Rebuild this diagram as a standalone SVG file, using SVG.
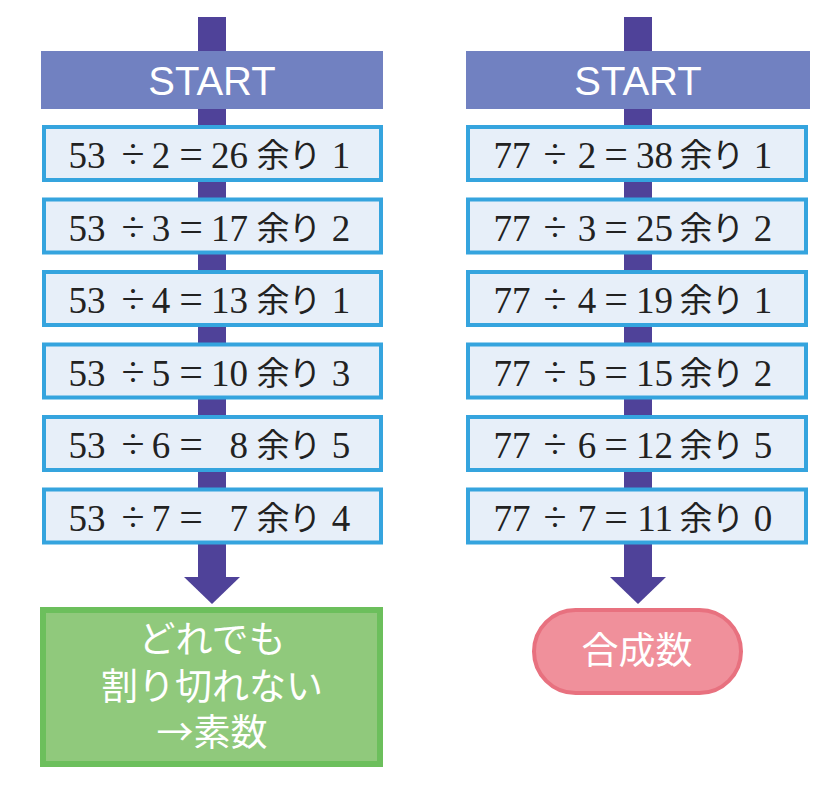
<svg xmlns="http://www.w3.org/2000/svg" width="840" height="797" viewBox="0 0 840 797">
<style>
.bar{fill:#4f4299}
.start{fill:#7181c1}
.st{font-family:"Liberation Sans","Noto Sans",sans-serif;font-size:40px;fill:#ffffff;text-anchor:middle}
.box{fill:#e7eff9;stroke:#35a4de;stroke-width:4}
.n{font-family:"Liberation Serif","Noto Sans CJK JP",serif;font-size:37px;fill:#222;text-anchor:middle}
.o{font-size:42px}
.r{text-anchor:end}
.j{font-family:"Noto Sans CJK JP",sans-serif;font-size:33px;fill:#222;text-anchor:middle}
.w{font-family:"Noto Sans CJK JP",sans-serif;font-size:37px;fill:#ffffff;text-anchor:middle}
</style>
<g id="connectors">
<rect class="bar" x="198" y="17" width="28" height="561"/>
<polygon class="bar" points="184,577 240,577 212,604"/>
<rect class="bar" x="624" y="17" width="28" height="561"/>
<polygon class="bar" points="610,577 666,577 638,604"/>
</g>
<g id="start-left">
<rect class="start" x="41" y="51" width="342" height="58"/>
<text class="st" x="212" y="95">START</text>
</g>
<g id="start-right">
<rect class="start" x="466" y="51" width="344" height="58"/>
<text class="st" x="638" y="95">START</text>
</g>
<g id="l1" transform="translate(42,125)">
<rect class="box" x="2" y="2" width="337" height="53"/>
<text class="n" x="45" y="43">53</text><text class="n o" x="91" y="43">÷</text><text class="n" x="119" y="43">2</text><text class="n o" x="149" y="43">=</text><text class="n r" x="206" y="43">26</text><text class="j" x="231" y="42">余</text><text class="j" x="263" y="42">り</text><text class="n" x="299" y="43">1</text>
</g>
<g id="l2" transform="translate(42,197.5)">
<rect class="box" x="2" y="2" width="337" height="53"/>
<text class="n" x="45" y="43">53</text><text class="n o" x="91" y="43">÷</text><text class="n" x="119" y="43">3</text><text class="n o" x="149" y="43">=</text><text class="n r" x="206" y="43">17</text><text class="j" x="231" y="42">余</text><text class="j" x="263" y="42">り</text><text class="n" x="299" y="43">2</text>
</g>
<g id="l3" transform="translate(42,270)">
<rect class="box" x="2" y="2" width="337" height="53"/>
<text class="n" x="45" y="43">53</text><text class="n o" x="91" y="43">÷</text><text class="n" x="119" y="43">4</text><text class="n o" x="149" y="43">=</text><text class="n r" x="206" y="43">13</text><text class="j" x="231" y="42">余</text><text class="j" x="263" y="42">り</text><text class="n" x="299" y="43">1</text>
</g>
<g id="l4" transform="translate(42,342.5)">
<rect class="box" x="2" y="2" width="337" height="53"/>
<text class="n" x="45" y="43">53</text><text class="n o" x="91" y="43">÷</text><text class="n" x="119" y="43">5</text><text class="n o" x="149" y="43">=</text><text class="n r" x="206" y="43">10</text><text class="j" x="231" y="42">余</text><text class="j" x="263" y="42">り</text><text class="n" x="299" y="43">3</text>
</g>
<g id="l5" transform="translate(42,415)">
<rect class="box" x="2" y="2" width="337" height="53"/>
<text class="n" x="45" y="43">53</text><text class="n o" x="91" y="43">÷</text><text class="n" x="119" y="43">6</text><text class="n o" x="149" y="43">=</text><text class="n r" x="206" y="43">8</text><text class="j" x="231" y="42">余</text><text class="j" x="263" y="42">り</text><text class="n" x="299" y="43">5</text>
</g>
<g id="l6" transform="translate(42,487.5)">
<rect class="box" x="2" y="2" width="337" height="53"/>
<text class="n" x="45" y="43">53</text><text class="n o" x="91" y="43">÷</text><text class="n" x="119" y="43">7</text><text class="n o" x="149" y="43">=</text><text class="n r" x="206" y="43">7</text><text class="j" x="231" y="42">余</text><text class="j" x="263" y="42">り</text><text class="n" x="299" y="43">4</text>
</g>
<g id="r1" transform="translate(466,125)">
<rect class="box" x="2" y="2" width="338" height="53"/>
<text class="n" x="46" y="43">77</text><text class="n o" x="89" y="43">÷</text><text class="n" x="121" y="43">2</text><text class="n o" x="150" y="43">=</text><text class="n r" x="207" y="43">38</text><text class="j" x="230" y="42">余</text><text class="j" x="262" y="42">り</text><text class="n" x="297" y="43">1</text>
</g>
<g id="r2" transform="translate(466,197.5)">
<rect class="box" x="2" y="2" width="338" height="53"/>
<text class="n" x="46" y="43">77</text><text class="n o" x="89" y="43">÷</text><text class="n" x="121" y="43">3</text><text class="n o" x="150" y="43">=</text><text class="n r" x="207" y="43">25</text><text class="j" x="230" y="42">余</text><text class="j" x="262" y="42">り</text><text class="n" x="297" y="43">2</text>
</g>
<g id="r3" transform="translate(466,270)">
<rect class="box" x="2" y="2" width="338" height="53"/>
<text class="n" x="46" y="43">77</text><text class="n o" x="89" y="43">÷</text><text class="n" x="121" y="43">4</text><text class="n o" x="150" y="43">=</text><text class="n r" x="207" y="43">19</text><text class="j" x="230" y="42">余</text><text class="j" x="262" y="42">り</text><text class="n" x="297" y="43">1</text>
</g>
<g id="r4" transform="translate(466,342.5)">
<rect class="box" x="2" y="2" width="338" height="53"/>
<text class="n" x="46" y="43">77</text><text class="n o" x="89" y="43">÷</text><text class="n" x="121" y="43">5</text><text class="n o" x="150" y="43">=</text><text class="n r" x="207" y="43">15</text><text class="j" x="230" y="42">余</text><text class="j" x="262" y="42">り</text><text class="n" x="297" y="43">2</text>
</g>
<g id="r5" transform="translate(466,415)">
<rect class="box" x="2" y="2" width="338" height="53"/>
<text class="n" x="46" y="43">77</text><text class="n o" x="89" y="43">÷</text><text class="n" x="121" y="43">6</text><text class="n o" x="150" y="43">=</text><text class="n r" x="207" y="43">12</text><text class="j" x="230" y="42">余</text><text class="j" x="262" y="42">り</text><text class="n" x="297" y="43">5</text>
</g>
<g id="r6" transform="translate(466,487.5)">
<rect class="box" x="2" y="2" width="338" height="53"/>
<text class="n" x="46" y="43">77</text><text class="n o" x="89" y="43">÷</text><text class="n" x="121" y="43">7</text><text class="n o" x="150" y="43">=</text><text class="n r" x="207" y="43">11</text><text class="j" x="230" y="42">余</text><text class="j" x="262" y="42">り</text><text class="n" x="297" y="43">0</text>
</g>
<g id="prime">
<rect x="43" y="610" width="337" height="154" fill="#90c97c" stroke="#6cbf5c" stroke-width="6"/>
<text class="w"><tspan x="212" y="653">どれでも</tspan><tspan x="212" y="700">割り切れない</tspan><tspan x="212" y="746">→素数</tspan></text>
</g>
<g id="composite">
<rect x="534" y="610" width="207" height="83" rx="41.5" fill="#f0909b" stroke="#e8717f" stroke-width="4"/>
<text class="w" x="637" y="664">合成数</text>
</g>
</svg>
